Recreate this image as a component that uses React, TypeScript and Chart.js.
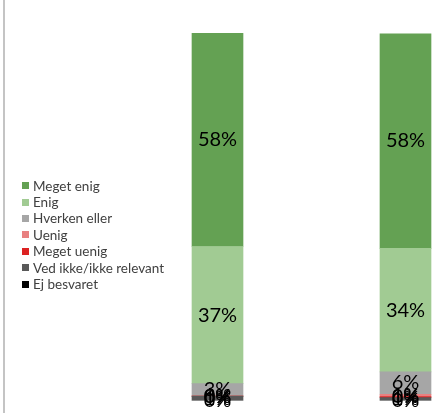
import React, { useEffect, useRef } from "react";
import { Chart, registerables } from "chart.js";

Chart.register(...registerables);

const categories = ["Gruppe 1", "Gruppe 2"];
const seriesNames = [
  "Meget enig",
  "Enig",
  "Hverken eller",
  "Uenig",
  "Meget uenig",
  "Ved ikke/ikke relevant",
  "Ej besvaret",
];
const megetEnig = [58.0, 58.4];
const enig = [37.3, 33.6];
const hverken = [3.4, 6.1];
const uenig = [0, 0.6];
const megetUenig = [0, 0.3];
const vedIkke = [1.2, 0.8];
const ejBesvaret = [0, 0];
const seriesColors = ["#64a153", "#a1cb93", "#a6a6a6", "#e88080", "#dc2222", "#595959", "#000000"];

const W = 520;
const H = 413;

export default function App() {
  const ref = useRef<HTMLCanvasElement | null>(null);
  useEffect(() => {
    const canvas = ref.current;
    if (!canvas) return;
    const values = [megetEnig, enig, hverken, uenig, megetUenig, vedIkke, ejBesvaret];
    // stack bottom-up: last series at bottom
    const datasets = values
      .map((v, i) => ({
        label: seriesNames[i],
        data: v,
        backgroundColor: seriesColors[i],
        borderWidth: 0,
        barThickness: 51,
      }))
      .reverse();

    const overlay = {
      id: "overlay",
      afterDatasetsDraw(chart: any) {
        const ctx = chart.ctx;
        ctx.save();
        // data labels
        ctx.font = "20px Lato";
        ctx.fillStyle = "#000000";
        ctx.textAlign = "center";
        ctx.textBaseline = "middle";
        chart.data.datasets.forEach((ds: any, di: number) => {
          const meta = chart.getDatasetMeta(di);
          meta.data.forEach((el: any, idx: number) => {
            const v = ds.data[idx];
            const y = (el.y + el.base) / 2;
            ctx.fillText(Math.round(v) + "%", el.x, y);
          });
        });
        // legend
        ctx.font = "13.5px Lato";
        ctx.textAlign = "left";
        for (let i = 0; i < seriesNames.length; i++) {
          const y = 185.7 + i * 16.4;
          ctx.fillStyle = seriesColors[i];
          ctx.fillRect(22, Math.round(y - 3.5), 7, 7);
          ctx.fillStyle = "#404040";
          ctx.fillText(seriesNames[i], 33, y + 0.5);
        }
        // chart border line on left
        ctx.fillStyle = "#c4c4c4";
        ctx.fillRect(3, 0, 2, H);
        ctx.restore();
      },
    };

    const chart = new Chart(canvas, {
      type: "bar",
      data: { labels: categories, datasets },
      options: {
        responsive: false,
        animation: false,
        devicePixelRatio: 1,
        layout: { padding: { left: 123.5, right: 20.5, top: 33, bottom: 12.5 } },
        plugins: { legend: { display: false }, tooltip: { enabled: false } },
        scales: {
          x: { stacked: true, display: false, grid: { display: false } },
          y: { stacked: true, display: false, min: 0, max: 100 },
        },
      },
      plugins: [overlay],
    });
    return () => chart.destroy();
  }, []);

  return (
    <div
      style={{
        position: "fixed",
        left: 0,
        top: 0,
        width: 435,
        height: 413,
        overflow: "hidden",
        background: "#ffffff",
      }}
    >
      <canvas ref={ref} width={W} height={H} style={{ display: "block" }} />
    </div>
  );
}
